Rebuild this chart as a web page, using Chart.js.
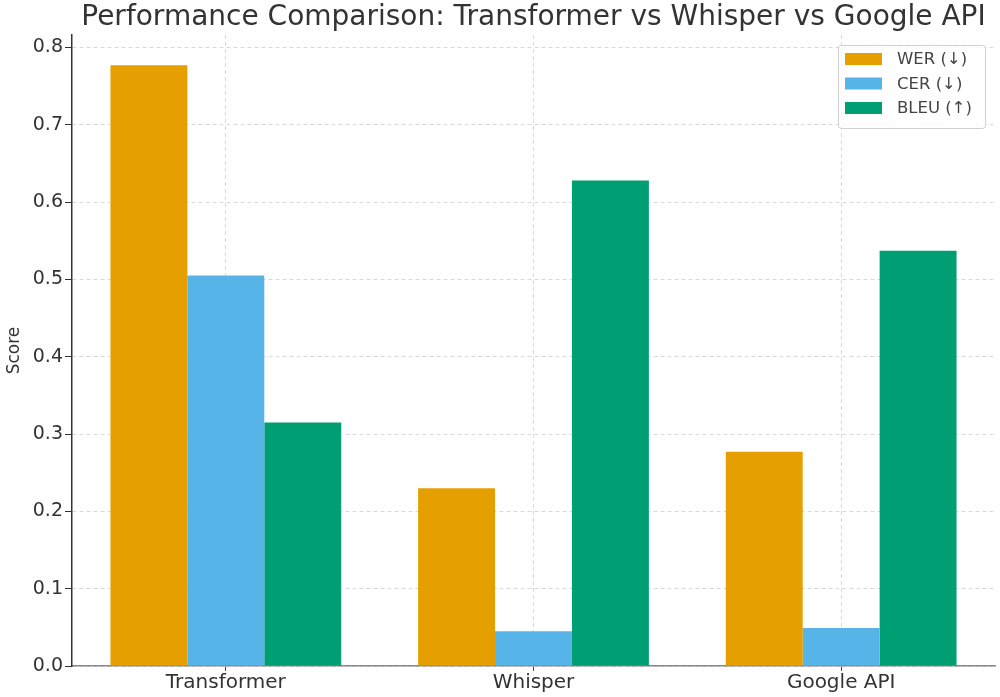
<!DOCTYPE html>
<html>
<head>
<meta charset="utf-8">
<script src="https://cdn.jsdelivr.net/npm/chart.js@4"></script>
<style>
  html, body { margin: 0; padding: 0; background: #fff; }
  #wrap { width: 1000px; height: 697px; }
</style>
</head>
<body>
<div id="wrap"><canvas id="bar-chart"></canvas></div>
<script>
"use strict";

// Kategorier och värden
const models = ["Transformer", "Whisper", "Google API"];
const werScores = [0.777, 0.230, 0.277];
const cerScores = [0.505, 0.045, 0.049];
const bleuScores = [0.315, 0.628, 0.537];
const seriesLabels = ["WER (↓)", "CER (↓)", "BLEU (↑)"];
const yTicks = [0, 0.1, 0.2, 0.3, 0.4, 0.5, 0.6, 0.7, 0.8];

const font = "'DejaVu Sans', sans-serif";

// Egen legend inne i diagramytan, uppe till höger
const insideLegend = {
    id: 'insideLegend',
    afterDraw(chart) {
        const ctx = chart.ctx;
        const area = chart.chartArea;
        const w = 147, h = 83;
        const x = area.right - 10 - w;
        const y = area.top + 10;
        ctx.save();
        ctx.fillStyle = 'rgba(255,255,255,0.8)';
        ctx.strokeStyle = '#d0d0d0';
        ctx.lineWidth = 1;
        ctx.beginPath();
        ctx.roundRect(x + 0.5, y + 0.5, w, h, 3);
        ctx.fill();
        ctx.stroke();
        ctx.font = "16.5px " + font;
        ctx.textBaseline = 'middle';
        chart.data.datasets.forEach((ds, i) => {
            const cy = y + 14 + i * 24.5;
            ctx.fillStyle = ds.backgroundColor;
            ctx.fillRect(x + 7, cy - 6, 37, 12);
            ctx.fillStyle = '#444';
            ctx.fillText(ds.label, x + 59, cy + 1);
        });
        ctx.restore();
    }
};

new Chart(document.getElementById('bar-chart'), {
    type: 'bar',
    data: {
        labels: models,
        datasets: [
            { label: seriesLabels[0], data: werScores, backgroundColor: '#E69F00' },
            { label: seriesLabels[1], data: cerScores, backgroundColor: '#56B4E9' },
            { label: seriesLabels[2], data: bleuScores, backgroundColor: '#009E73' }
        ]
    },
    options: {
        responsive: true,
        maintainAspectRatio: false,
        animation: false,
        categoryPercentage: 0.75,
        barPercentage: 1.0,
        layout: { padding: { left: 0, right: 5, top: 0, bottom: 0 } },
        plugins: {
            legend: { display: false },
            tooltip: { enabled: false },
            title: {
                display: true,
                text: 'Performance Comparison: Transformer vs Whisper vs Google API',
                fullSize: false,
                color: '#333',
                font: { family: font, size: 28, weight: 'normal', lineHeight: 1.1 },
                padding: { top: 2, bottom: 2.2 }
            }
        },
        scales: {
            x: {
                z: 1,
                offset: true,
                grid: {
                    offset: false,
                    color: 'rgba(170,170,170,0.45)',
                    tickColor: '#444',
                    tickLength: 5,
                    tickBorderDash: []
                },
                border: { display: true, color: '#888', width: 1.5, dash: [4, 3] },
                ticks: {
                    color: '#333',
                    font: { family: font, size: 20 },
                    padding: 0,
                    maxRotation: 0
                },
                afterFit(scale) { scale.height = 31; }
            },
            y: {
                z: 1,
                min: 0,
                max: 0.816,
                afterBuildTicks(scale) { scale.ticks = yTicks.map(v => ({ value: v })); },
                grid: {
                    color: 'rgba(170,170,170,0.45)',
                    tickColor: '#333',
                    tickLength: 7,
                    tickBorderDash: []
                },
                border: { display: true, color: '#333', width: 1.5, dash: [4, 3] },
                ticks: {
                    color: '#333',
                    font: { family: font, size: 19 },
                    padding: 2,
                    callback: v => Number(v).toFixed(1)
                },
                title: {
                    display: true,
                    text: 'Score',
                    color: '#333',
                    font: { family: font, size: 17 },
                    padding: { top: 4, bottom: 0 }
                },
                afterFit(scale) { scale.width = 72; }
            }
        }
    },
    plugins: [insideLegend]
});
</script>
</body>
</html>
